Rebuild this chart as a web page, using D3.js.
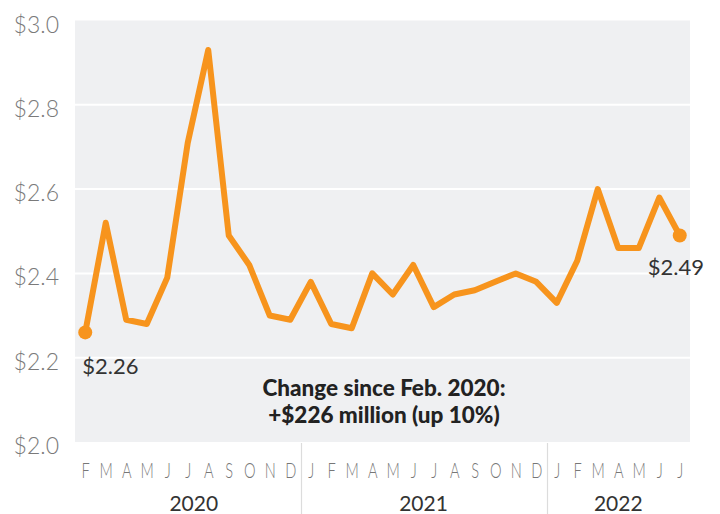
<!DOCTYPE html>
<html>
<head>
<meta charset="utf-8">
<script src="https://cdn.jsdelivr.net/npm/d3@7"></script>
<style>
  html, body { margin: 0; padding: 0; background: #fff; }
  svg { display: block; }
</style>
</head>
<body>
<svg id="chart" width="720" height="514"></svg>
<script>
// ---- data ----
const monthLabels = ["F","M","A","M","J","J","A","S","O","N","D",
                     "J","F","M","A","M","J","J","A","S","O","N","D",
                     "J","F","M","A","M","J","J"];
const years = ["2020","2020","2020","2020","2020","2020","2020","2020","2020","2020","2020",
               "2021","2021","2021","2021","2021","2021","2021","2021","2021","2021","2021","2021",
               "2022","2022","2022","2022","2022","2022","2022"];
const values = [2.26, 2.52, 2.29, 2.28, 2.39, 2.71, 2.93, 2.49, 2.42, 2.30, 2.29,
                2.38, 2.28, 2.27, 2.40, 2.35, 2.42, 2.32, 2.35, 2.36, 2.38, 2.40,
                2.38, 2.33, 2.43, 2.60, 2.46, 2.46, 2.58, 2.49];
const yTicks = [2.0, 2.2, 2.4, 2.6, 2.8, 3.0];
const yearNames = ["2020","2021","2022"];
const startLabel = "$2.26";
const endLabel = "$2.49";
const noteLines = ["Change since Feb. 2020:", "+$226 million (up 10%)"];

// ---- layout ----
const svg = d3.select("#chart");
const plot = {left: 75, right: 690, top: 20.5, bottom: 442};
const idx = d3.range(values.length);

const x = d3.scalePoint().domain(idx).range([plot.left, plot.right]).padding(0.5);
const y = d3.scaleLinear().domain([2.0, 3.0]).range([plot.bottom, plot.top]);

// background
svg.append("rect")
  .attr("x", plot.left).attr("y", plot.top)
  .attr("width", plot.right - plot.left).attr("height", plot.bottom - plot.top)
  .attr("fill", "#eff0f2");

// gridlines
svg.append("g").selectAll("line")
  .data(yTicks.filter(d => d > 2.0 && d < 3.0))
  .join("line")
  .attr("x1", plot.left).attr("x2", plot.right)
  .attr("y1", d => y(d)).attr("y2", d => y(d))
  .attr("stroke", "#ffffff").attr("stroke-width", 2);

// y axis labels
const yAxis = d3.axisLeft(y).tickValues(yTicks).tickSize(0).tickPadding(0)
  .tickFormat(d => "$" + d3.format(".1f")(d));
const yg = svg.append("g").attr("transform", `translate(${59},0)`).call(yAxis);
yg.select(".domain").remove();
yg.selectAll("text")
  .attr("font-family", "Lato, sans-serif")
  .attr("font-weight", 300)
  .attr("font-size", 23)
  .attr("fill", "#7a7a7a")
  .attr("dy", "0.5em");

// line
const line = d3.line().x(i => x(i)).y(i => y(values[i]));
svg.append("path")
  .datum(idx)
  .attr("d", line)
  .attr("fill", "none")
  .attr("stroke", "#f7941d")
  .attr("stroke-width", 6)
  .attr("stroke-linejoin", "round")
  .attr("stroke-linecap", "round");

// end dots
const ends = [0, values.length - 1];
svg.append("g").selectAll("circle")
  .data(ends).join("circle")
  .attr("cx", i => x(i)).attr("cy", i => y(values[i]))
  .attr("r", 7).attr("fill", "#f7941d");

// value labels
svg.append("text")
  .attr("x", x(0) - 3).attr("y", y(values[0]) + 42)
  .attr("font-family", "Lato, sans-serif").attr("font-size", 22)
  .attr("fill", "#333").text(startLabel);
svg.append("text")
  .attr("x", x(values.length - 1) - 32).attr("y", y(values[values.length - 1]) + 40)
  .attr("font-family", "Lato, sans-serif").attr("font-size", 22)
  .attr("fill", "#333").text(endLabel);

// annotation
svg.append("g").selectAll("text")
  .data(noteLines).join("text")
  .attr("x", 384).attr("y", (d, i) => 396 + i * 27)
  .attr("text-anchor", "middle")
  .attr("font-family", "Lato, sans-serif").attr("font-weight", 900)
  .attr("font-size", 22.5).attr("fill", "#222")
  .text(d => d);

// month labels
const xAxis = d3.axisBottom(x).tickSize(0).tickPadding(0).tickFormat(i => monthLabels[i]);
const xg = svg.append("g").attr("transform", `translate(0,${478})`).call(xAxis);
xg.select(".domain").remove();
xg.selectAll(".tick text")
  .attr("y", 0).attr("dy", 0)
  .attr("font-family", "Lato, sans-serif")
  .attr("font-weight", 300)
  .attr("font-size", 21.5)
  .attr("fill", "#777")
  .attr("text-anchor", "middle")
  .attr("transform", "scale(0.68,1)");

// year separators
const bounds = [];
for (let i = 1; i < years.length; i++) {
  if (years[i] !== years[i - 1]) bounds.push((x(i) + x(i - 1)) / 2 + 1);
}
svg.append("g").selectAll("line")
  .data(bounds).join("line")
  .attr("x1", d => d).attr("x2", d => d)
  .attr("y1", plot.bottom + 1).attr("y2", 514)
  .attr("stroke", "#dcdcdc").attr("stroke-width", 1.2);

// year labels
svg.append("g").selectAll("text")
  .data(yearNames).join("text")
  .attr("x", (yr, k) => {
    const ii = idx.filter(i => years[i] === yr);
    const c = (x(ii[0]) + x(ii[ii.length - 1])) / 2;
    return k === 0 ? c + 6 : c;
  })
  .attr("y", 511)
  .attr("text-anchor", "middle")
  .attr("font-family", "Lato, sans-serif")
  .attr("font-size", 21)
  .attr("fill", "#333")
  .text(d => d);
</script>
</body>
</html>
